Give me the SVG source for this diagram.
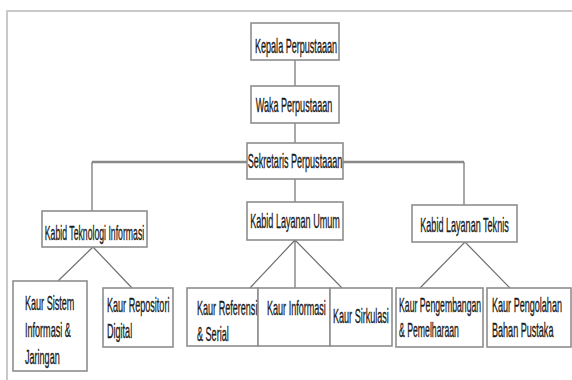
<svg xmlns="http://www.w3.org/2000/svg" width="572" height="380" viewBox="0 0 572 380">
<style>
.frame{stroke:#c9c9c9;stroke-width:2;fill:none}
.box{fill:#ffffff;stroke:#8e8e8e;stroke-width:1.6}
.con{stroke:#707070;stroke-width:1.2;fill:none}
.bus{stroke:#8a8a8a;stroke-width:2.5;fill:none}
.t{font-family:"Liberation Sans",Arial,sans-serif;font-size:20px;fill:#1a1a1a;stroke:#1a1a1a;stroke-width:0.35}
.c{text-anchor:middle}
</style>
<rect width="572" height="380" fill="#ffffff"/>
<path class="frame" d="M7 380 V11 H572"/>
<g id="connectors">
<path class="bus" d="M92 162 H464"/>
<path class="con" d="M295 60 V86 M295 123 V143 M295 179 V202 M92 162 V211 M464 162 V205"/>
<path class="con" d="M93 247 L58 281 M93 247 L132 288"/>
<path class="con" d="M295 240 L250 288 M295 240 V288 M295 240 L342 288"/>
<path class="con" d="M465 242 L420 288 M465 242 L510 288"/>
</g>
<g id="kepala">
<rect class="box" x="251" y="23" width="88" height="37"/>
<text class="t c" transform="translate(296,53) scale(0.453 1)">Kepala Perpustaaan</text>
</g>
<g id="waka">
<rect class="box" x="251" y="86" width="88" height="37"/>
<text class="t c" transform="translate(294,112) scale(0.453 1)">Waka Perpustaaan</text>
</g>
<g id="sekretaris">
<rect class="box" x="247" y="143" width="96" height="36"/>
<text class="t c" transform="translate(295,168) scale(0.453 1)">Sekretaris Perpustaaan</text>
</g>
<g id="kabid-ti">
<rect class="box" x="42" y="211" width="105" height="36"/>
<text class="t c" transform="translate(94.5,240) scale(0.435 1)">Kabid Teknologi Informasi</text>
</g>
<g id="kabid-umum">
<rect class="box" x="247" y="202" width="96" height="38"/>
<text class="t c" transform="translate(295,228) scale(0.453 1)">Kabid Layanan Umum</text>
</g>
<g id="kabid-teknis">
<rect class="box" x="412" y="205" width="105" height="37"/>
<text class="t c" transform="translate(464.5,232) scale(0.453 1)">Kabid Layanan Teknis</text>
</g>
<g id="kaur-sistem">
<rect class="box" x="13" y="281" width="74" height="90"/>
<text class="t" transform="translate(25,310) scale(0.453 1)"><tspan x="0" y="0">Kaur Sistem</tspan><tspan x="0" y="27">Informasi &amp;</tspan><tspan x="0" y="54">Jaringan</tspan></text>
</g>
<g id="kaur-repositori">
<rect class="box" x="103" y="288" width="70" height="59"/>
<text class="t" transform="translate(107,312) scale(0.453 1)"><tspan x="0" y="0">Kaur Repositori</tspan><tspan x="0" y="26">Digital</tspan></text>
</g>
<g id="kaur-referensi">
<rect class="box" x="187" y="288" width="71" height="58"/>
<text class="t" transform="translate(197,315) scale(0.453 1)"><tspan x="0" y="0">Kaur Referensi</tspan><tspan x="0" y="26">&amp; Serial</tspan></text>
</g>
<g id="kaur-informasi">
<rect class="box" x="258" y="288" width="72" height="58"/>
<text class="t" transform="translate(267,315) scale(0.453 1)">Kaur Informasi</text>
</g>
<g id="kaur-sirkulasi">
<rect class="box" x="330" y="288" width="62" height="58"/>
<text class="t" transform="translate(333,323) scale(0.453 1)">Kaur Sirkulasi</text>
</g>
<g id="kaur-pengembangan">
<rect class="box" x="396" y="288" width="87" height="59"/>
<text class="t" transform="translate(399,312) scale(0.435 1)"><tspan x="0" y="0">Kaur Pengembangan</tspan><tspan x="0" y="25">&amp; Pemelharaan</tspan></text>
</g>
<g id="kaur-pengolahan">
<rect class="box" x="487" y="288" width="84" height="59"/>
<text class="t" transform="translate(492,312) scale(0.453 1)"><tspan x="0" y="0">Kaur Pengolahan</tspan><tspan x="0" y="25">Bahan Pustaka</tspan></text>
</g>
</svg>
